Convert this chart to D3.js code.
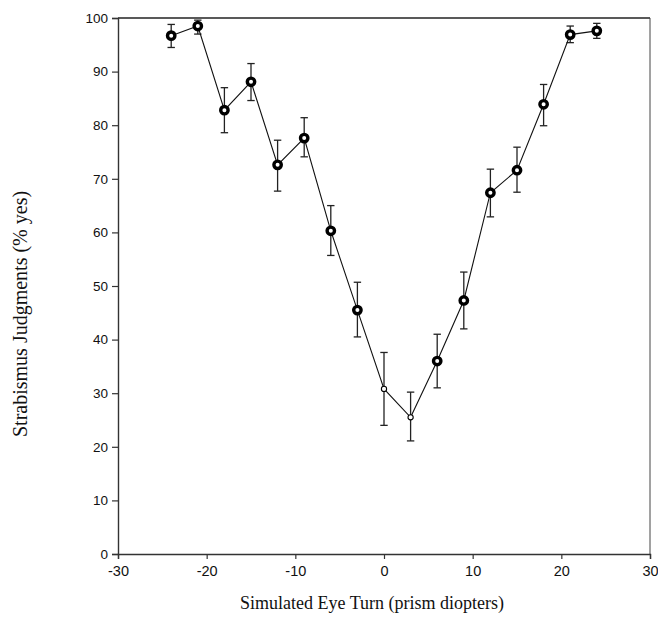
<!DOCTYPE html>
<html><head><meta charset="utf-8">
<script src="https://cdn.jsdelivr.net/npm/d3@7"></script>
<style>body{margin:0;background:#fff;} svg{display:block;}</style>
</head><body>
<svg id="chart" width="658" height="620"></svg>
<script>
const xValues = [-24,-21,-18,-15,-12,-9,-6,-3,0,3,6,9,12,15,18,21,24];
const yValues = [96.7,98.5,82.8,88.1,72.6,77.6,60.3,45.5,30.8,25.5,36.0,47.3,67.4,71.6,83.9,96.9,97.6];
const errUpper = [98.8,99.6,87.0,91.5,77.2,81.4,65.0,50.7,37.6,30.2,41.0,52.6,71.8,75.9,87.6,98.5,99.0];
const errLower = [94.5,97.0,78.6,84.6,67.7,74.1,55.7,40.5,24.0,21.1,31.0,42.0,62.9,67.5,79.9,95.4,96.2];
const smallMarker = [false,false,false,false,false,false,false,false,true,true,false,false,false,false,false,false,false];
const xTicks = [-30,-20,-10,0,10,20,30];
const yTicks = [0,10,20,30,40,50,60,70,80,90,100];

const svg = d3.select("#chart");
const mLeft = 118, mRight = 650, mTop = 18, mBottom = 554;
const x = d3.scaleLinear().domain([-30,30]).range([mLeft,mRight]);
const y = d3.scaleLinear().domain([0,100]).range([mBottom,mTop]);
const fmt = d => String(d);  // plain hyphen-minus as in the reference

const data = xValues.map((v,i)=>({x:v,y:yValues[i],hi:errUpper[i],lo:errLower[i],small:smallMarker[i]}));

// frame top & right
svg.append("line").attr("x1",mLeft).attr("x2",mRight).attr("y1",mTop).attr("y2",mTop)
  .attr("stroke","#222").attr("stroke-width",1.3);
svg.append("line").attr("x1",mRight).attr("x2",mRight).attr("y1",mTop).attr("y2",mBottom)
  .attr("stroke","#444").attr("stroke-width",1);

const xAxis = svg.append("g").attr("transform",`translate(0,${mBottom})`)
  .call(d3.axisBottom(x).tickValues(xTicks).tickSize(5).tickPadding(7).tickFormat(fmt));
const yAxis = svg.append("g").attr("transform",`translate(${mLeft},0)`)
  .call(d3.axisLeft(y).tickValues(yTicks).tickSize(6).tickPadding(4).tickFormat(fmt));
[xAxis,yAxis].forEach(g=>{
  g.select(".domain").attr("stroke","#333").attr("stroke-width",1.4);
  g.selectAll(".tick line").attr("stroke","#333").attr("stroke-width",1.2);
  g.selectAll(".tick text").attr("font-family","Liberation Sans, Arial, sans-serif").attr("fill","#111");
});
xAxis.selectAll(".tick text").attr("font-size",14.5);
yAxis.selectAll(".tick text").attr("font-size",13.5);

// error bars
const eb = svg.append("g").attr("stroke","#222").attr("stroke-width",1.3);
data.forEach(d=>{
  eb.append("line").attr("x1",x(d.x)).attr("x2",x(d.x)).attr("y1",y(d.hi)).attr("y2",y(d.lo));
  eb.append("line").attr("x1",x(d.x)-3.7).attr("x2",x(d.x)+3.7).attr("y1",y(d.hi)).attr("y2",y(d.hi));
  eb.append("line").attr("x1",x(d.x)-3.7).attr("x2",x(d.x)+3.7).attr("y1",y(d.lo)).attr("y2",y(d.lo));
});

// line
svg.append("path").datum(data)
  .attr("d",d3.line().x(d=>x(d.x)).y(d=>y(d.y)))
  .attr("fill","none").attr("stroke","#111").attr("stroke-width",1.1);

// markers
svg.append("g").selectAll("circle").data(data).join("circle")
  .attr("cx",d=>x(d.x)).attr("cy",d=>y(d.y))
  .attr("r",d=>d.small?2.6:3.7)
  .attr("fill","#fff").attr("stroke","#000")
  .attr("stroke-width",d=>d.small?1.1:3.4);

// axis titles
svg.append("text").attr("x",372).attr("y",609)
  .attr("text-anchor","middle").attr("font-family","Liberation Serif, Times New Roman, serif")
  .attr("font-size",18).attr("fill","#111").text("Simulated Eye Turn (prism diopters)");
svg.append("text").attr("transform",`translate(27,437) rotate(-90)`)
  .attr("text-anchor","start").attr("font-family","Liberation Serif, Times New Roman, serif")
  .attr("font-size",20).attr("fill","#111").text("Strabismus Judgments (% yes)");
</script>
</body></html>
